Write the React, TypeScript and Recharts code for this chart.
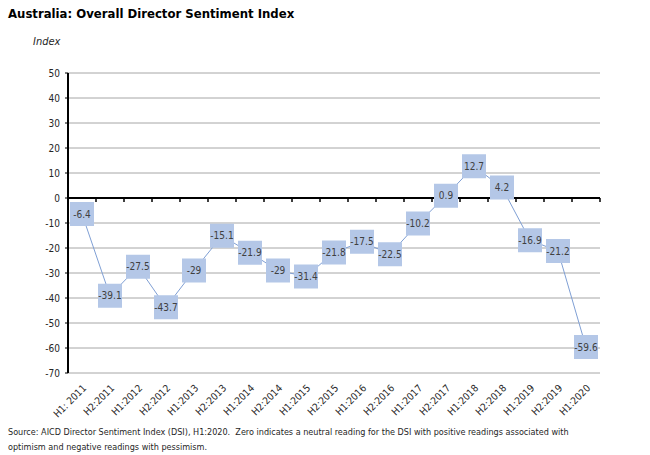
import React from "react";
import {
  ComposedChart,
  Line,
  XAxis,
  YAxis,
  CartesianGrid,
  ReferenceLine,
  LabelList,
} from "recharts";

const periods = [
  "H1: 2011", "H2:2011", "H1:2012", "H2:2012", "H1:2013", "H2:2013",
  "H1:2014", "H2:2014", "H1:2015", "H2:2015", "H1:2016", "H2:2016",
  "H1:2017", "H2:2017", "H1:2018", "H2:2018", "H1:2019", "H2:2019",
  "H1:2020",
];

const dsiValues = [
  -6.4, -39.1, -27.5, -43.7, -29, -15.1, -21.9, -29, -31.4, -21.8, -17.5,
  -22.5, -10.2, 0.9, 12.7, 4.2, -16.9, -21.2, -59.6,
];

const yTicks = [50, 40, 30, 20, 10, 0, -10, -20, -30, -40, -50, -60, -70];

const font = "'DejaVu Sans Condensed', 'Liberation Sans Narrow', Arial, sans-serif";

const data = periods.map((name, i) => ({ idx: i, name, value: dsiValues[i] }));

// Excel-style tick marks on the zero axis sit between categories
const boundaries = periods.map((_, i) => i + 0.5);

const BoxLabel = (props: any) => {
  const { x, y, value } = props;
  return (
    <g>
      <rect x={x - 12} y={y - 12} width={24} height={24} fill="#b4c7e7" />
      <text
        x={x}
        y={y + 3.5}
        textAnchor="middle"
        fontSize={10}
        fontFamily={font}
        fill="#404040"
      >
        {value}
      </text>
    </g>
  );
};

const AngledTick = (props: any) => {
  const { x, y, payload } = props;
  return (
    <text
      x={x}
      y={y}
      dx={-2}
      dy={9}
      textAnchor="end"
      transform={`rotate(-45 ${x} ${y})`}
      fontSize={10}
      fontFamily={font}
      fill="#262626"
    >
      {periods[payload.value]}
    </text>
  );
};

export default function App() {
  return (
    <div
      style={{
        position: "absolute",
        left: 0,
        top: 0,
        width: 650,
        height: 455,
        background: "#fff",
        fontFamily: font,
      }}
    >
      <div
        style={{
          position: "absolute",
          left: 8,
          top: 6,
          fontSize: 13,
          fontWeight: "bold",
          color: "#000",
        }}
      >
        Australia: Overall Director Sentiment Index
      </div>
      <div
        style={{
          position: "absolute",
          left: 33,
          top: 35,
          fontSize: 11,
          fontStyle: "italic",
          color: "#262626",
        }}
      >
        Index
      </div>
      <ComposedChart
        width={650}
        height={455}
        data={data}
        margin={{ top: 73, right: 50, bottom: 0, left: 0 }}
      >
        <CartesianGrid vertical={false} stroke="#a6a6a6" strokeWidth={1} />
        <XAxis
          type="number"
          dataKey="idx"
          domain={[-0.5, 18.5]}
          ticks={data.map((d) => d.idx)}
          interval={0}
          height={82}
          axisLine={false}
          tickLine={false}
          tick={<AngledTick />}
        />
        <YAxis
          type="number"
          domain={[-70, 50]}
          ticks={yTicks}
          width={68}
          axisLine={{ stroke: "#000", strokeWidth: 2 }}
          tickLine={{ stroke: "#000" }}
          tickSize={3}
          tickMargin={5}
          tick={{ fontSize: 10, fontFamily: font, fill: "#262626" }}
        />
        <ReferenceLine y={0} stroke="#000" strokeWidth={2} />
        {boundaries.map((b) => (
          <ReferenceLine
            key={b}
            segment={[
              { x: b, y: 0 },
              { x: b, y: -1.6 },
            ]}
            stroke="#000"
            strokeWidth={1.5}
            ifOverflow="visible"
          />
        ))}
        <Line
          type="linear"
          dataKey="value"
          stroke="#7f9fd4"
          strokeWidth={1}
          dot={false}
          isAnimationActive={false}
        >
          <LabelList dataKey="value" content={<BoxLabel />} />
        </Line>
      </ComposedChart>
      <div
        style={{
          position: "absolute",
          left: 8,
          top: 425,
          fontSize: 9,
          lineHeight: "15px",
          whiteSpace: "nowrap",
          color: "#262626",
        }}
      >
        Source: AICD Director Sentiment Index (DSI), H1:2020.&nbsp; Zero indicates a neutral reading for the DSI with positive readings associated with
        <br />
        optimism and negative readings with pessimism.
      </div>
    </div>
  );
}
